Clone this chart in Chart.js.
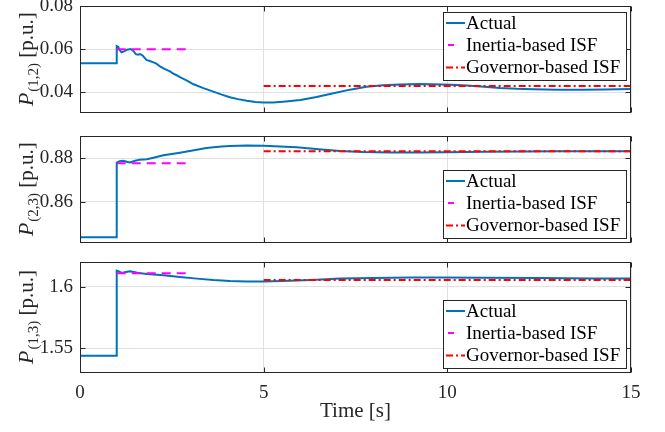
<!DOCTYPE html>
<html>
<head>
<meta charset="utf-8">
<script src="https://cdn.jsdelivr.net/npm/chart.js@4.4.1/dist/chart.umd.min.js"></script>
<style>
html,body{margin:0;padding:0;background:#fff;}
#wrap{position:relative;width:665px;height:432px;background:#fff;}
#wrap canvas{position:absolute;left:0;top:0;}
</style>
</head>
<body>
<div id="wrap">
<canvas id="c1" width="665" height="432"></canvas>
<canvas id="c2" width="665" height="432"></canvas>
<canvas id="c3" width="665" height="432"></canvas>
</div>
<script>
// ---------- data ----------
const timeTicks = [0, 5, 10, 15];
const timeTickLabels = ['0', '5', '10', '15'];
const seriesNames = ['Actual', 'Inertia-based ISF', 'Governor-based ISF'];
const inertiaT = [1, 3];
const governorT = [5, 15];

// P(1,2)
const t12 = [0, 1.0, 1.0, 1.04, 1.08, 1.13, 1.2, 1.28, 1.38, 1.45, 1.52, 1.58, 1.63, 1.7, 1.76, 1.81, 1.9, 2.0, 2.08, 2.18, 2.27, 2.36, 2.45, 2.54, 2.63, 2.72, 2.9, 3.09, 3.36, 3.63, 3.86, 4.08, 4.3, 4.54, 4.77, 5.0, 5.25, 5.53, 6.0, 6.44, 6.9, 7.35, 7.8, 8.25, 8.71, 9.2, 9.62, 10.1, 10.53, 11.0, 11.43, 11.9, 12.34, 13.0, 13.7, 14.3, 15.0];
const actual12 = [0.0535, 0.0535, 0.0615, 0.0612, 0.0596, 0.0586, 0.0590, 0.0598, 0.0601, 0.0592, 0.0577, 0.0574, 0.0577, 0.0572, 0.0560, 0.0550, 0.0545, 0.0539, 0.0533, 0.0520, 0.0511, 0.0504, 0.0497, 0.0487, 0.0479, 0.0470, 0.0455, 0.0437, 0.0419, 0.0403, 0.0389, 0.0377, 0.0368, 0.0360, 0.0355, 0.0352, 0.0352, 0.0356, 0.0364, 0.0378, 0.0395, 0.0412, 0.0425, 0.0432, 0.0436, 0.0438, 0.0437, 0.0435, 0.0431, 0.0426, 0.0420, 0.0416, 0.0414, 0.0412, 0.0412, 0.0413, 0.0415];
const inertia12 = [0.0600, 0.0600];
const governor12 = [0.0429, 0.0429];
const yTicks12 = [0.04, 0.06, 0.08];
const yTickLabels12 = ['0.04', '0.06', '0.08'];

// P(2,3)
const t23 = [0, 1.0, 1.0, 1.08, 1.18, 1.27, 1.36, 1.5, 1.63, 1.82, 2.0, 2.27, 2.5, 2.72, 2.95, 3.18, 3.4, 3.63, 3.86, 4.08, 4.54, 5.0, 5.45, 5.9, 6.5, 7.08, 7.7, 8.44, 9.2, 10.0, 11.0, 12.0, 13.0, 14.0, 15.0];
const actual23 = [0.8436, 0.8436, 0.8780, 0.8787, 0.8789, 0.8784, 0.8781, 0.8789, 0.8794, 0.8796, 0.8803, 0.8814, 0.8820, 0.8826, 0.8833, 0.8840, 0.8846, 0.8851, 0.8855, 0.8857, 0.8859, 0.8858, 0.8855, 0.8851, 0.8842, 0.8834, 0.8829, 0.8827, 0.8827, 0.8828, 0.8830, 0.8832, 0.8833, 0.8833, 0.8833];
const inertia23 = [0.8777, 0.8777];
const governor23 = [0.8833, 0.8833];
const yTicks23 = [0.86, 0.88];
const yTickLabels23 = ['0.86', '0.88'];

// P(1,3)
const t13 = [0, 1.0, 1.0, 1.06, 1.13, 1.25, 1.36, 1.5, 1.6, 1.82, 2.27, 2.72, 3.18, 3.63, 4.08, 4.54, 5.0, 5.5, 6.3, 7.08, 8.0, 9.0, 9.8, 11.0, 12.5, 14.0, 15.0];
const actual13 = [1.5437, 1.5437, 1.6131, 1.6124, 1.6113, 1.6120, 1.6126, 1.6118, 1.6111, 1.6104, 1.6093, 1.6080, 1.6066, 1.6055, 1.6047, 1.6043, 1.6043, 1.6046, 1.6055, 1.6066, 1.6072, 1.6075, 1.6076, 1.6074, 1.6071, 1.6068, 1.6066];
const inertia13 = [1.6109, 1.6109];
const governor13 = [1.6055, 1.6055];
const yTicks13 = [1.55, 1.6];
const yTickLabels13 = ['1.55', '1.6'];

// ---------- drawing ----------
const SERIF = '"Liberation Serif", "Times New Roman", serif';
const AX = '#262626';
const GRID = '#e0e0e0';
const COLORS = ['#0072BD', '#FF00FF', '#FF0000'];
const DASHES = [[], [9, 6], [7, 3, 2, 3]];

const pts = (xs, ys) => xs.map((x, i) => ({x: x, y: ys[i]}));

const decor = {
  id: 'decor',
  afterDraw(chart, args, o) {
    const ctx = chart.ctx, a = chart.chartArea, xs = chart.scales.x, ys = chart.scales.y;
    ctx.save();
    // frame
    ctx.strokeStyle = AX; ctx.lineWidth = 1; ctx.setLineDash([]);
    const L = Math.round(a.left) + 0.5, R = Math.round(a.right) - 0.5;
    const T = Math.round(a.top) + 0.5, B = Math.round(a.bottom) - 0.5;
    ctx.strokeRect(L, T, R - L, B - T);
    // inward ticks
    const tl = 5;
    ctx.beginPath();
    xs.ticks.forEach(tk => {
      const p = Math.round(xs.getPixelForValue(tk.value)) + 0.5;
      ctx.moveTo(p, T); ctx.lineTo(p, T + tl);
      ctx.moveTo(p, B); ctx.lineTo(p, B - tl);
    });
    ys.ticks.forEach(tk => {
      const p = Math.round(ys.getPixelForValue(tk.value)) + 0.5;
      ctx.moveTo(L, p); ctx.lineTo(L + tl, p);
      ctx.moveTo(R, p); ctx.lineTo(R - tl, p);
    });
    ctx.stroke();

    // legend
    const bw = 183, bh = 68;
    const bx = Math.round(a.right - 5 - bw);
    const by = Math.round(o.legendPos === 'top' ? a.top + 5.7 : a.bottom - 5.6 - bh);
    ctx.fillStyle = '#fff';
    ctx.fillRect(bx, by, bw, bh);
    ctx.strokeStyle = AX; ctx.lineWidth = 1;
    ctx.strokeRect(bx + 0.5, by + 0.5, bw, bh);
    const rowOff = [11, 33, 55.5];
    ctx.font = '19px ' + SERIF;
    ctx.textBaseline = 'middle';
    ctx.textAlign = 'left';
    chart.data.datasets.forEach((ds, i) => {
      const ry = by + rowOff[i];
      ctx.strokeStyle = ds.borderColor; ctx.lineWidth = 2;
      ctx.beginPath();
      if (i === 1) { ctx.setLineDash([]); ctx.moveTo(bx + 5, ry); ctx.lineTo(bx + 11, ry); }
      else { ctx.setLineDash(ds.borderDash || []); ctx.moveTo(bx + 3, ry); ctx.lineTo(bx + 22, ry); }
      ctx.stroke();
      ctx.setLineDash([]);
      ctx.fillStyle = '#000';
      ctx.fillText(ds.label, bx + 23, ry + 1);
    });

    // y title with subscript
    const midY = (a.top + a.bottom) / 2;
    ctx.translate(33, midY);
    ctx.rotate(-Math.PI / 2);
    ctx.textBaseline = 'alphabetic';
    ctx.fillStyle = AX;
    const fP = 'italic 22px ' + SERIF, fS = '15px ' + SERIF, fR = '21px ' + SERIF;
    ctx.font = fP; const wP = ctx.measureText('P').width;
    ctx.font = fS; const wS = ctx.measureText(o.sub).width;
    ctx.font = fR; const wR = ctx.measureText(' [p.u.]').width;
    let x0 = -(wP + wS + wR) / 2;
    ctx.font = fP; ctx.fillText('P', x0, 0);
    ctx.font = fS; ctx.fillText(o.sub, x0 + wP + 1, 5);
    ctx.font = fR; ctx.fillText(' [p.u.]', x0 + wP + 1 + wS, 0);
    ctx.restore();
  }
};

const panels = [
  {id: 'c1', t: t12, actual: actual12, inertia: inertia12, governor: governor12, yMin: 0.0302, yMax: 0.0801, yTicks: yTicks12, yLabels: yTickLabels12, sub: '(1,2)', top: 6, bottom: 113.3, legendPos: 'top', showX: false},
  {id: 'c2', t: t23, actual: actual23, inertia: inertia23, governor: governor23, yMin: 0.8408, yMax: 0.8903, yTicks: yTicks23, yLabels: yTickLabels23, sub: '(2,3)', top: 136, bottom: 243.3, legendPos: 'bottom', showX: false},
  {id: 'c3', t: t13, actual: actual13, inertia: inertia13, governor: governor13, yMin: 1.5294, yMax: 1.6204, yTicks: yTicks13, yLabels: yTickLabels13, sub: '(1,3)', top: 261.7, bottom: 373.3, legendPos: 'bottom', showX: true}
];

panels.forEach(p => {
  const H = 432;
  new Chart(document.getElementById(p.id), {
    type: 'line',
    data: {
      datasets: [
        {label: seriesNames[0], data: pts(p.t, p.actual), borderColor: COLORS[0], borderWidth: 2, borderDash: DASHES[0], pointRadius: 0, tension: 0, order: 1},
        {label: seriesNames[1], data: pts(inertiaT, p.inertia), borderColor: COLORS[1], borderWidth: 2, borderDash: DASHES[1], pointRadius: 0, tension: 0, order: 0},
        {label: seriesNames[2], data: pts(governorT, p.governor), borderColor: COLORS[2], borderWidth: 2, borderDash: DASHES[2], pointRadius: 0, tension: 0, order: 0}
      ]
    },
    options: {
      responsive: false,
      animation: false,
      events: [],
      layout: {padding: {left: 0, right: 34, top: p.top, bottom: p.showX ? 0 : H - p.bottom}},
      plugins: {
        legend: {display: false},
        tooltip: {enabled: false},
        decor: {legendPos: p.legendPos, sub: p.sub}
      },
      scales: {
        x: {
          type: 'linear', min: 0, max: 15,
          afterBuildTicks: s => { s.ticks = timeTicks.map(v => ({value: v})); },
          afterFit: s => { s.height = p.showX ? H - p.bottom : 0; s.paddingLeft = 0; s.paddingRight = 0; },
          grid: {color: GRID, lineWidth: 1, drawTicks: false},
          border: {display: false},
          ticks: {
            display: p.showX, padding: 8, color: AX,
            font: {family: SERIF, size: 19},
            maxRotation: 0,
            callback: v => timeTickLabels[timeTicks.indexOf(v)]
          },
          title: {display: p.showX, text: 'Time [s]', color: AX, font: {family: SERIF, size: 21}, padding: {top: 0, bottom: 8}}
        },
        y: {
          type: 'linear', min: p.yMin, max: p.yMax,
          afterBuildTicks: s => { s.ticks = p.yTicks.map(v => ({value: v})); },
          afterFit: s => { s.width = 80; s.paddingTop = 0; s.paddingBottom = 0; },
          grid: {color: GRID, lineWidth: 1, drawTicks: false},
          border: {display: false},
          ticks: {
            padding: 7, color: AX,
            font: {family: SERIF, size: 19},
            callback: v => p.yLabels[p.yTicks.indexOf(v)]
          }
        }
      }
    },
    plugins: [decor]
  });
});
</script>
</body>
</html>
